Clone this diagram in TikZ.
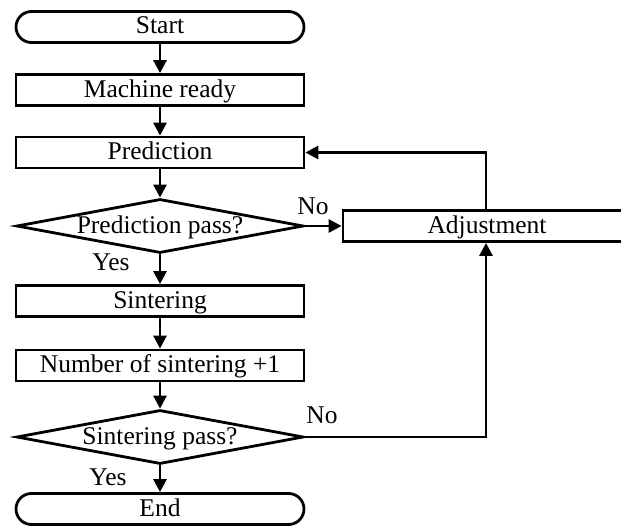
\documentclass[tikz,border=0pt]{standalone}
\usepackage{fontspec}
\setmainfont{Liberation Serif}
\usetikzlibrary{arrows.meta,shapes.geometric}
\begin{document}
\begin{tikzpicture}[x=1pt,y=-1pt,
  every node/.style={font=\fontsize{25.5}{29}\selectfont},
  box/.style={draw,line width=2.8pt,minimum width=288pt,minimum height=31pt,inner sep=0pt,text height=18pt,text depth=4pt},
  term/.style={box,rounded corners=15.5pt},
  dec/.style={draw,line width=2.8pt,diamond,aspect=5.3,minimum width=287pt,minimum height=54pt,inner sep=0pt,text height=18pt,text depth=4pt},
  lbl/.style={inner sep=0pt},
  conn/.style={line width=2.8pt,-{Triangle[length=13pt,width=13pt]}}]
\clip (0,0) rectangle (621,527);
\node[term] (start) at (160,27) {Start};
\node[box] (ready) at (160,90) {Machine ready};
\node[box] (pred) at (160,152.5) {Prediction};
\node[dec] (pp) at (160,226) {Prediction pass?};
\node[box] (adj) at (487,226) {Adjustment};
\node[box] (sint) at (160,301) {Sintering};
\node[box] (num) at (160,365.5) {Number of sintering +1};
\node[dec] (sp) at (160,437) {Sintering pass?};
\node[term] (end) at (160,509) {End};
\coordinate (c1) at (486,152.5);
\coordinate (c2) at (486,437);
\draw[conn] (start) -- (ready);
\draw[conn] (ready) -- (pred);
\draw[conn] (pred) -- (pp);
\draw[conn] (pp) -- (sint);
\draw[conn] (sint) -- (num);
\draw[conn] (num) -- (sp);
\draw[conn] (sp) -- (end);
\draw[conn] (pp.east) -- (adj.west);
\draw[conn] (adj.north -| c1) -- (c1) -- (pred.east);
\draw[conn] (sp.east) -- (c2) -- (adj.south -| c2);
\node[lbl] (no1) at (313,206) {No};
\node[lbl] (no2) at (322,415) {No};
\node[lbl] (yes1) at (111,262) {Yes};
\node[lbl] (yes2) at (108,477) {Yes};
\end{tikzpicture}
\end{document}
